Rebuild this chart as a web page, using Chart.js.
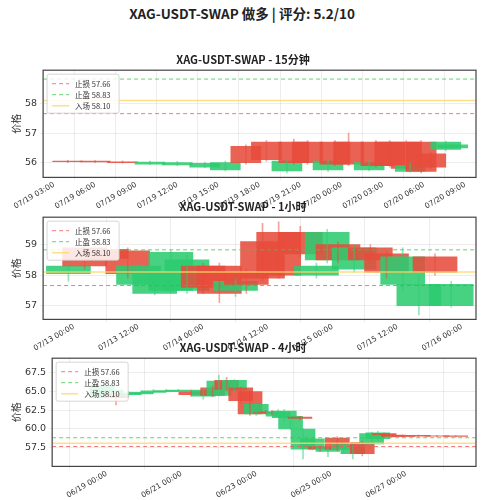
<!DOCTYPE html>
<html><head><meta charset="utf-8">
<script src="https://cdn.jsdelivr.net/npm/chart.js@4.4.0/dist/chart.umd.min.js"></script>
<style>
body{margin:0;width:484px;height:500px;background:#fff;font-family:"Noto Sans CJK SC","DejaVu Sans",sans-serif;position:relative;overflow:hidden}
#mt{position:absolute;top:3px;left:0;width:484px;text-align:center;font-weight:bold;font-size:13.5px;color:#222}
.c{position:absolute;left:0;width:484px}
</style></head><body>
<div id="mt">XAG-USDT-SWAP 做多 | 评分: 5.2/10</div>
<div class="c" style="top:49px;height:162px"><canvas id="c1"></canvas></div>
<div class="c" style="top:196px;height:157px"><canvas id="c2"></canvas></div>
<div class="c" style="top:337px;height:163px"><canvas id="c3"></canvas></div>
<script>
// Levels
const stopLoss = 57.66, takeProfit = 58.83, entry = 58.10;
// 15min chart (hours from 07/19 00:00)
const t1 = [4,6,8,10,12,14,15.5,17,18.5,20,20.5,21.5,23,23.5,24.5,26,26.5,27.5,28.7,29,29.8,30.5,31.6,32.1];
const o1 = [56.05,56.05,56.03,55.95,55.92,55.85,55.75,56.55,56.7,55.72,56.7,56.7,55.75,56.7,56.7,55.75,56.7,56.7,56.7,55.7,56.7,56.3,56.45,56.5];
const c1 = [56.03,56.02,56.0,56.02,56.0,55.98,56.0,56.0,56.1,56.05,56.0,56.0,56.05,55.95,55.95,56.0,55.9,55.9,55.8,55.9,55.7,55.85,56.7,56.6];
const h1 = [56.08,56.07,56.06,56.05,56.04,56.02,56.05,56.6,56.75,56.1,56.8,56.75,56.1,56.75,57.0,56.1,56.75,56.75,56.75,56.0,56.75,56.35,56.72,56.65];
const l1 = [56.0,56.0,55.98,55.93,55.9,55.83,55.72,55.95,56.05,55.65,55.95,55.95,55.7,55.9,55.9,55.72,55.85,55.85,55.75,55.68,55.65,55.8,56.4,56.48];
const xt1 = [3,6,9,12,15,18,21,24,27,30,33];
// 1h chart (hours from 07/13 00:00)
const t2 = [-1,2,6,10,12,15,18,21,24,27,30,32,35,38,42,45,47,49,52,55,58,61,64,67,70];
const o2 = [58.05,58.9,58.85,58.8,57.7,57.4,57.5,57.5,58.3,58.3,57.5,58.1,59.1,59.4,59.4,58.0,58.5,59.0,58.2,58.9,58.7,57.7,57.0,58.6,57.0];
const c2 = [58.3,58.3,58.55,58.05,58.3,58.1,58.75,58.5,57.6,57.4,57.8,57.7,57.9,58.0,58.7,58.3,59.4,58.5,58.9,58.5,58.1,58.6,57.7,58.1,57.7];
const h2 = [58.35,58.95,59.05,58.9,58.35,58.2,58.8,58.7,58.4,58.4,57.9,58.2,59.7,59.75,59.6,58.4,59.5,59.1,59.0,59.0,58.8,58.9,58.0,58.7,57.8];
const l2 = [57.8,58.2,58.3,57.9,57.6,57.35,57.4,57.4,57.4,57.1,57.3,57.4,57.8,57.9,58.6,57.9,58.4,58.4,58.1,58.4,57.9,57.5,56.7,58.0,56.95];
const xt2 = [0,12,24,36,48,60,72];
// 4h chart (hours from 06/19 00:00)
const t3 = [-3,3,6,14,22,30,38,46,54,62,68,72,77,82,86,92,96,102,106,110,114,118,124,126,132,137,142,148,152,158,164,170,174,178,184,190,200,212,224];
const o3 = [64.2,64.2,64.7,64.6,64.7,64.9,65.0,65.1,65.0,64.4,65.5,64.5,66.5,65.2,65.5,65.0,62.0,62.2,62.3,61.7,61.5,60.0,61.6,57.3,57.4,57.6,57.0,58.8,57.3,56.7,58.2,58.0,58.7,59.4,59.2,59.1,59.15,59.1,59.1];
const c3 = [65.8,65.2,64.2,64.8,64.9,65.1,65.1,65.2,64.6,65.2,64.5,66.4,65.3,66.5,63.8,62.0,63.3,62.1,62.2,62.3,62.4,61.7,61.4,60.0,58.7,57.3,57.5,57.3,57.9,57.8,56.7,59.4,59.5,59.2,59.0,59.0,59.05,59.05,59.0];
const h3 = [65.9,65.4,64.9,65.0,65.1,65.3,65.3,65.3,65.2,65.4,65.8,67.2,66.9,66.6,65.6,65.1,63.5,62.5,62.5,62.6,62.6,61.8,61.7,60.1,58.8,57.7,57.8,59.0,58.1,57.9,58.4,59.6,59.7,59.5,59.3,59.2,59.2,59.15,59.1];
const l3 = [64.0,64.0,63.2,64.4,64.6,64.8,64.9,65.0,64.4,64.0,64.3,64.4,65.1,65.0,63.5,61.8,61.8,62.0,61.9,61.6,61.0,59.9,61.2,56.0,57.2,57.0,56.3,57.1,56.8,56.0,56.4,57.9,58.5,59.0,58.9,58.9,58.95,58.95,58.9];
const xt3 = [0,48,96,144,192];

const pad = n => String(n).padStart(2,'0');
function fmt(base, h){
  const d = new Date(2025, base[0]-1, base[1], 0, 0);
  d.setHours(d.getHours()+h);
  return pad(d.getMonth()+1)+'/'+pad(d.getDate())+' '+pad(d.getHours())+':00';
}
const G='rgba(46,204,113,0.88)', R='rgba(231,76,60,0.88)';
const frame = {id:'frame', afterDraw(ch){
  const a=ch.chartArea,c=ch.ctx;c.save();
  c.strokeStyle='#444';c.lineWidth=1.2;c.strokeRect(a.left,a.top,a.right-a.left,a.bottom-a.top);
  const ds=ch.data.datasets.filter(d=>d.type==='line');
  const x0=a.left+4,y0=a.top+4,w=72,lh=11,hgt=ds.length*lh+6;
  c.fillStyle='rgba(255,255,255,0.85)';c.strokeStyle='#ccc';c.lineWidth=0.8;
  c.beginPath();c.roundRect(x0,y0,w,hgt,2);c.fill();c.stroke();
  c.font='7.5px "Noto Sans CJK SC"';c.textBaseline='middle';
  ds.forEach((d,i)=>{const y=y0+4+lh*i+lh/2;
    c.strokeStyle=d.borderColor;c.lineWidth=d.borderWidth;c.setLineDash(d.borderDash||[]);
    c.beginPath();c.moveTo(x0+5,y);c.lineTo(x0+22,y);c.stroke();c.setLineDash([]);
    c.fillStyle='#333';c.fillText(d.label,x0+28,y);});
  c.restore();}};

function make(id, title, t, o, c, h, l, xr, yr, xt, yt, base, thick, yfmt){
  const col = t.map((_, i) => c[i] >= o[i] ? G : R);
  const wcol = t.map((_, i) => c[i] >= o[i] ? 'rgba(46,204,113,0.5)' : 'rgba(231,76,60,0.5)');
  const lvl = (lab, v, color, dash, w) => ({type:'line', label:lab, data:[{x:xr[0],y:v},{x:xr[1],y:v}], borderColor:color, backgroundColor:color, borderWidth:w, borderDash:dash, pointRadius:0, order:-1});
  new Chart(document.getElementById(id), {
    type:'bar',
    data:{datasets:[
      {label:'body', data:t.map((x,i)=>({x:x, y:[o[i],c[i]]})), backgroundColor:col, barThickness:thick, grouped:false, order:3},
      {label:'wick', data:t.map((x,i)=>({x:x, y:[l[i],h[i]]})), backgroundColor:wcol, barThickness:1, grouped:false, order:2},
      lvl('止损 '+stopLoss.toFixed(2), stopLoss, 'rgba(240,90,90,0.8)', [4,3], 1),
      lvl('止盈 '+takeProfit.toFixed(2), takeProfit, 'rgba(60,200,80,0.8)', [4,3], 1),
      lvl('入场 '+entry.toFixed(2), entry, 'rgba(255,215,100,0.8)', [], 1.5)
    ]},
    options:{responsive:true, maintainAspectRatio:false, animation:false,
      layout:{padding:{left:10,right:8,top:0,bottom:0}},
      plugins:{
        title:{display:true, text:title, font:{size:11, weight:'bold', family:'Noto Sans CJK SC'}, color:'#222', padding:{top:4,bottom:4}},
        legend:{display:false},
        tooltip:{enabled:false}},
      scales:{
        x:{type:'linear', min:xr[0], max:xr[1], offset:false,
          afterBuildTicks:ax=>{ax.ticks=xt.map(v=>({value:v}));},
          ticks:{callback:v=>fmt(base,v), maxRotation:30, minRotation:30, font:{size:7.5,family:'DejaVu Sans'}, color:'#333', autoSkip:false, padding:0},
          grid:{color:'rgba(0,0,0,0.07)', tickLength:3}},
        y:{min:yr[0], max:yr[1],
          afterBuildTicks:ax=>{ax.ticks=yt.map(v=>({value:v}));},
          ticks:{callback:yfmt, font:{size:9.5,family:'DejaVu Sans'}, color:'#333'},
          title:{display:true, text:'价格', font:{size:10, family:'Noto Sans CJK SC'}, color:'#333', padding:0},
          grid:{color:'rgba(0,0,0,0.07)', tickLength:3}}
      }},
    plugins:[frame]
  });
}
make('c1','XAG-USDT-SWAP - 15分钟', t1,o1,c1,h1,l1, [2.2,33.8],[55.5,59.13], xt1,[56,57,58],[7,19],30, v=>v.toFixed(0));
make('c2','XAG-USDT-SWAP - 1小时', t2,o2,c2,h2,l2, [-5.7,74.6],[56.55,59.9], xt2,[57,58,59],[7,13],44, v=>v.toFixed(0));
make('c3','XAG-USDT-SWAP - 4小时', t3,o3,c3,h3,l3, [-35,237],[55.0,69.46], xt3,[57.5,60,62.5,65,67.5],[6,19],24, v=>v.toFixed(1));
</script></body></html>
